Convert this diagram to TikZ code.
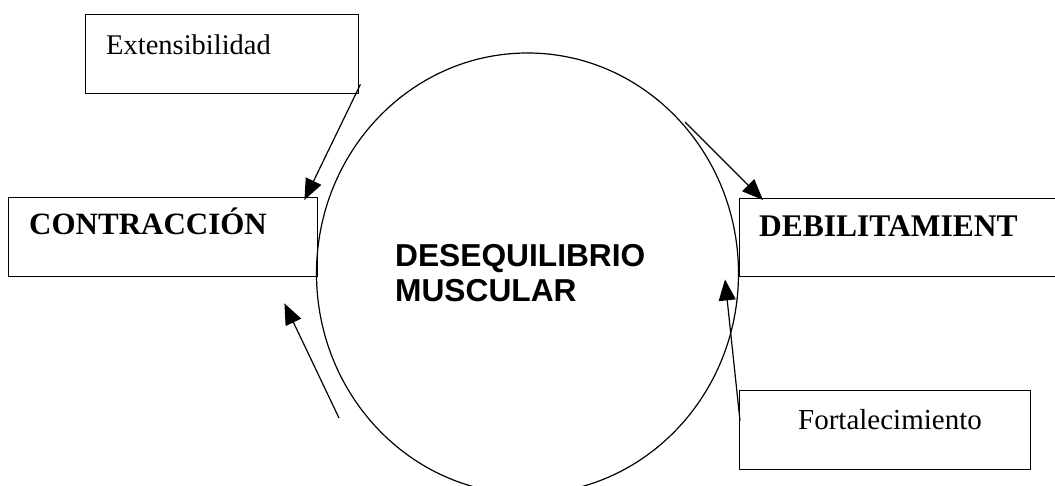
\documentclass[tikz,border=0pt]{standalone}
\usepackage{fontspec}
\setmainfont{Liberation Serif}
\newfontfamily\arialfont{Liberation Sans}
\usetikzlibrary{shapes.geometric,arrows.meta}
\tikzset{
  boxstyle/.style={draw, line width=1.4bp, rectangle, inner sep=0pt, anchor=north west},
  labelstyle/.style={anchor=base west, inner sep=0pt},
  arrowstyle/.style={line width=1.2bp, -{Triangle[length=21bp,width=17bp]}},
}
\begin{document}
\begin{tikzpicture}[x=1bp,y=-1bp]
\useasboundingbox (0,0) rectangle (1055,486);
\clip (0,0) rectangle (1055,486);
\fill[white] (0,0) rectangle (1055,486);
% boxes
\node[boxstyle, minimum width=273bp, minimum height=79bp] (ext) at (85,14) {};
\node[boxstyle, minimum width=309bp, minimum height=79bp] (con) at (8,197) {};
\node[boxstyle, minimum width=340bp, minimum height=78bp] (deb) at (739,198) {};
\node[boxstyle, minimum width=291bp, minimum height=79bp] (fort) at (739,390) {};
% circle
\node[draw, ellipse, line width=1.2bp, minimum width=422bp, minimum height=441bp, inner sep=0pt] (circ) at (527.5,273.5) {};
% texts
\node[labelstyle, font=\fontsize{28.5bp}{30bp}\selectfont] (extt) at (106,55) {Extensibilidad};
\node[labelstyle, font=\fontsize{31bp}{33bp}\selectfont\bfseries] (cont) at (29,235) {CONTRACCIÓN};
\node[labelstyle, font=\fontsize{31.5bp}{33bp}\selectfont\bfseries] (debt) at (759,237) {DEBILITAMIENT};
\node[labelstyle, font=\fontsize{29bp}{30bp}\selectfont] (fortt) at (798,429) {Fortalecimiento};
\node[labelstyle, font=\arialfont\fontsize{31.7bp}{35bp}\selectfont\bfseries] (des1) at (395,267) {DESEQUILIBRIO};
\node[labelstyle, font=\arialfont\fontsize{31.7bp}{35bp}\selectfont\bfseries] (des2) at (395,302) {MUSCULAR};
% free ends
\coordinate (c2) at (685,122);
\coordinate (c3) at (339,418);
% arrows
\draw[arrowstyle] ([shift={(1,-10)}]ext.south east) -- ([shift={(-14,3)}]con.north east);
\draw[arrowstyle] (c2) -- ([shift={(24,2)}]deb.north west);
\draw[arrowstyle] (c3) -- ([shift={(-34,26)}]con.south east);
\draw[arrowstyle] ([shift={(1,-9.5)}]fort.west) -- ([shift={(-14,2)}]deb.south west);
\end{tikzpicture}
\end{document}
